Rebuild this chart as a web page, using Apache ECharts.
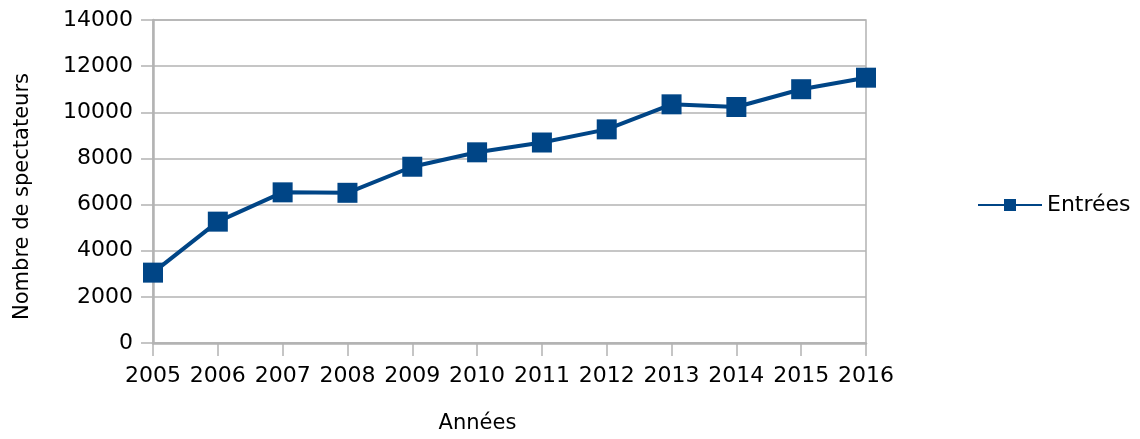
<!DOCTYPE html>
<html>
<head>
<meta charset="utf-8">
<script src="https://cdn.jsdelivr.net/npm/echarts@6/dist/echarts.min.js"></script>
<style>
html,body{margin:0;padding:0;background:#fff;}
#chart{width:1140px;height:439px;}
</style>
</head>
<body>
<div id="chart"></div>
<script>
const years = ['2005','2006','2007','2008','2009','2010','2011','2012','2013','2014','2015','2016'];
const entrees = [3050, 5260, 6530, 6510, 7640, 8265, 8690, 9260, 10345, 10230, 11000, 11500];
const seriesName = 'Entrées';
const xTitle = 'Années';
const yTitle = 'Nombre de spectateurs';

const FONT = '"DejaVu Sans", sans-serif';
const GRID_C = '#b3b3b3';
const TEXT_C = '#000000';

const chart = echarts.init(document.getElementById('chart'), null, {renderer: 'canvas'});
chart.setOption({
  animation: false,
  backgroundColor: '#fff',
  textStyle: {fontFamily: FONT},
  grid: {
    left: 153, right: 274, top: 20, height: 323,
    show: true, borderColor: GRID_C, borderWidth: 1.5, backgroundColor: 'transparent'
  },
  legend: {
    data: [seriesName],
    left: 972, top: 189,
    itemWidth: 64, itemHeight: 15, itemGap: 7,
    lineStyle: {width: 2},
    textStyle: {fontSize: 22, color: TEXT_C, fontFamily: FONT}
  },
  xAxis: {
    type: 'category',
    data: years,
    boundaryGap: false,
    name: xTitle,
    nameLocation: 'middle',
    nameGap: 70,
    nameTextStyle: {fontSize: 21, color: TEXT_C, fontFamily: FONT, padding: [0, 64, 0, 0]},
    axisLine: {show: true, lineStyle: {color: GRID_C, width: 2.5}},
    axisTick: {show: true, alignWithLabel: true, length: 13, lineStyle: {color: GRID_C, width: 1.5}},
    axisLabel: {fontSize: 22, color: TEXT_C, margin: 22, fontFamily: FONT, interval: 0},
    splitLine: {show: false}
  },
  yAxis: {
    type: 'value',
    min: 0, max: 14000, interval: 2000,
    name: yTitle,
    nameLocation: 'middle',
    nameRotate: 90,
    nameGap: 120,
    nameTextStyle: {fontSize: 21, color: TEXT_C, fontFamily: FONT, padding: [0, 30, 0, 0]},
    axisLine: {show: true, lineStyle: {color: GRID_C, width: 2.5}},
    axisTick: {show: true, length: 12, lineStyle: {color: GRID_C, width: 1.5}},
    axisLabel: {fontSize: 22, color: TEXT_C, margin: 20, fontFamily: FONT, formatter: v => String(v)},
    splitLine: {show: true, lineStyle: {color: GRID_C, width: 1.5}}
  },
  series: [{
    name: seriesName,
    type: 'line',
    data: entrees,
    symbol: 'rect',
    symbolSize: 20,
    itemStyle: {color: '#004586'},
    lineStyle: {color: '#004586', width: 4}
  }]
});
</script>
</body>
</html>
